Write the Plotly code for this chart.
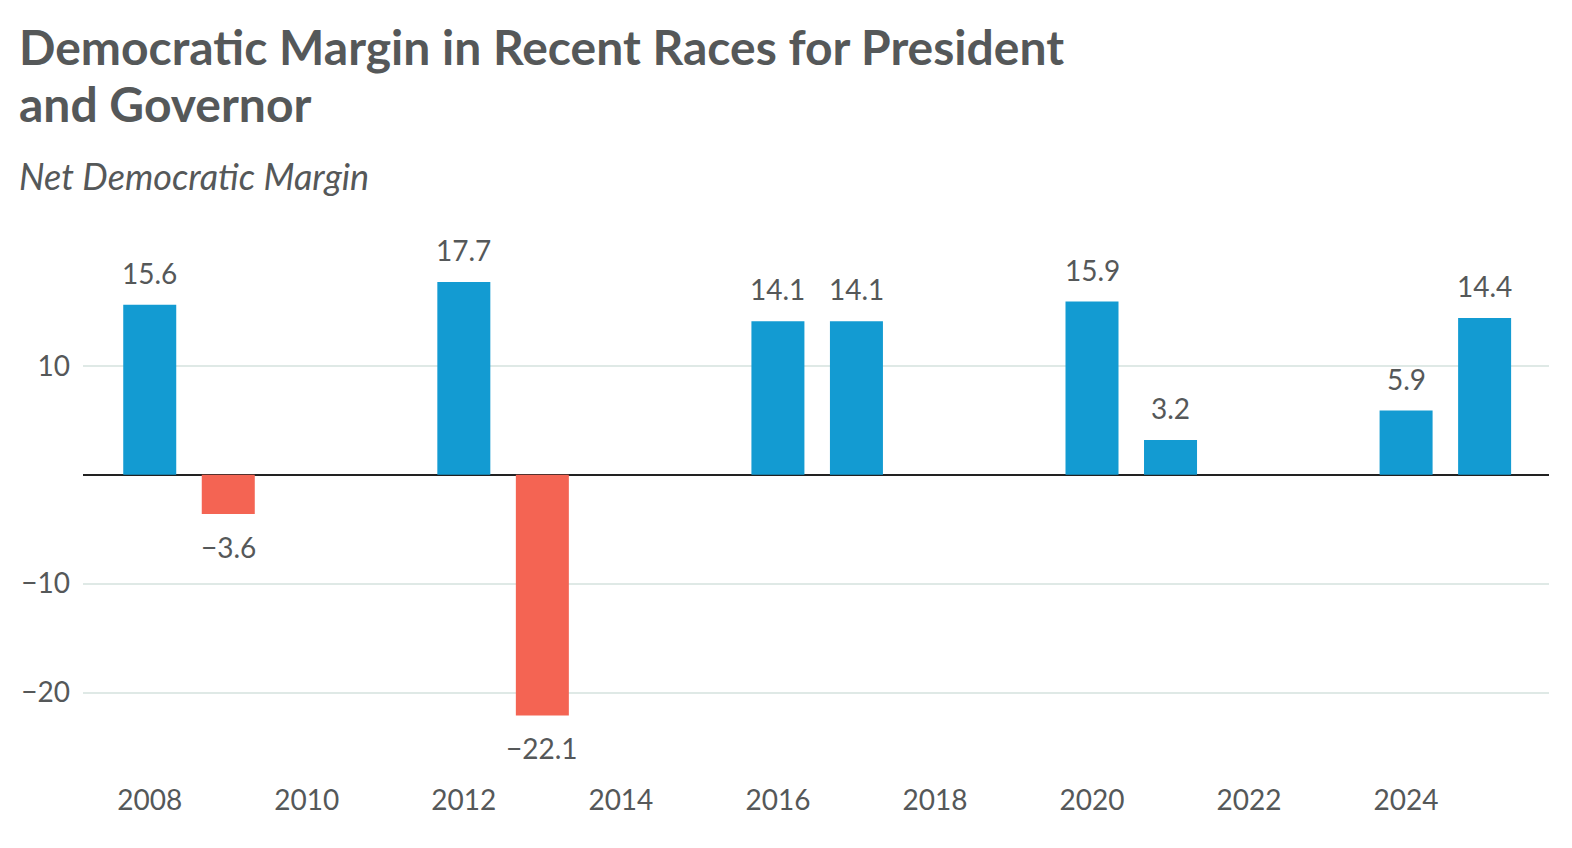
import plotly.graph_objects as go

years = [2008, 2009, 2012, 2013, 2016, 2017, 2020, 2021, 2024, 2025]
margins = [15.6, -3.6, 17.7, -22.1, 14.1, 14.1, 15.9, 3.2, 5.9, 14.4]
labels = ['15.6', '\u22123.6', '17.7', '\u221222.1', '14.1', '14.1', '15.9', '3.2', '5.9', '14.4']
x_ticks = [2008, 2010, 2012, 2014, 2016, 2018, 2020, 2022, 2024]
y_ticks = [-20, -10, 10]
y_tick_text = ['\u221220', '\u221210', '10']

BLUE = '#139bd2'
RED = '#f46453'
GREY = '#555859'
FONT = 'Lato, Open Sans, sans-serif'

fig = go.Figure()
fig.add_trace(go.Bar(
    x=years,
    y=margins,
    width=0.675,
    marker=dict(color=[BLUE if v >= 0 else RED for v in margins], line=dict(width=0)),
    hoverinfo='x+y',
))

# value labels above/below bars
for x, v, t in zip(years, margins, labels):
    fig.add_annotation(
        x=x, y=v, text=t, showarrow=False,
        yshift=32 if v >= 0 else -33,
        font=dict(size=28, color=GREY, family=FONT),
    )

# title (two lines) and subtitle, above the plot area
for line, ypos in [('Democratic Margin in Recent Races for President', 1.372),
                   ('and Governor', 1.27)]:
    fig.add_annotation(
        text='<b>%s</b>' % line,
        xref='paper', yref='paper', x=-0.0452, y=ypos,
        xanchor='left', yanchor='top', showarrow=False, align='left',
        font=dict(size=48, color=GREY, family=FONT),
    )
fig.add_annotation(
    text='<i>Net Democratic Margin</i>',
    xref='paper', yref='paper', x=-0.0452, y=1.126,
    xanchor='left', yanchor='top', showarrow=False, align='left',
    font=dict(size=36, color=GREY, family=FONT),
)

fig.update_layout(
    width=1572,
    height=848,
    margin=dict(l=75, r=31, t=213, b=85),
    plot_bgcolor='white',
    paper_bgcolor='white',
    showlegend=False,
    font=dict(family=FONT, color=GREY, size=28),
    xaxis=dict(
        range=[2007.15, 2025.82],
        tickvals=x_ticks,
        showgrid=False,
        zeroline=False,
        showline=False,
        ticks='',
        ticklabelstandoff=10,
        tickfont=dict(size=28, color=GREY),
    ),
    yaxis=dict(
        range=[-27.2, 23.3],
        tickvals=y_ticks,
        ticktext=y_tick_text,
        showgrid=True,
        gridcolor='#dfe9e6',
        gridwidth=1.5,
        zeroline=True,
        zerolinecolor='#222222',
        zerolinewidth=2,
        ticks='',
        ticklabelstandoff=12,
        tickfont=dict(size=28, color=GREY),
    ),
)

fig.write_html('out.html')
